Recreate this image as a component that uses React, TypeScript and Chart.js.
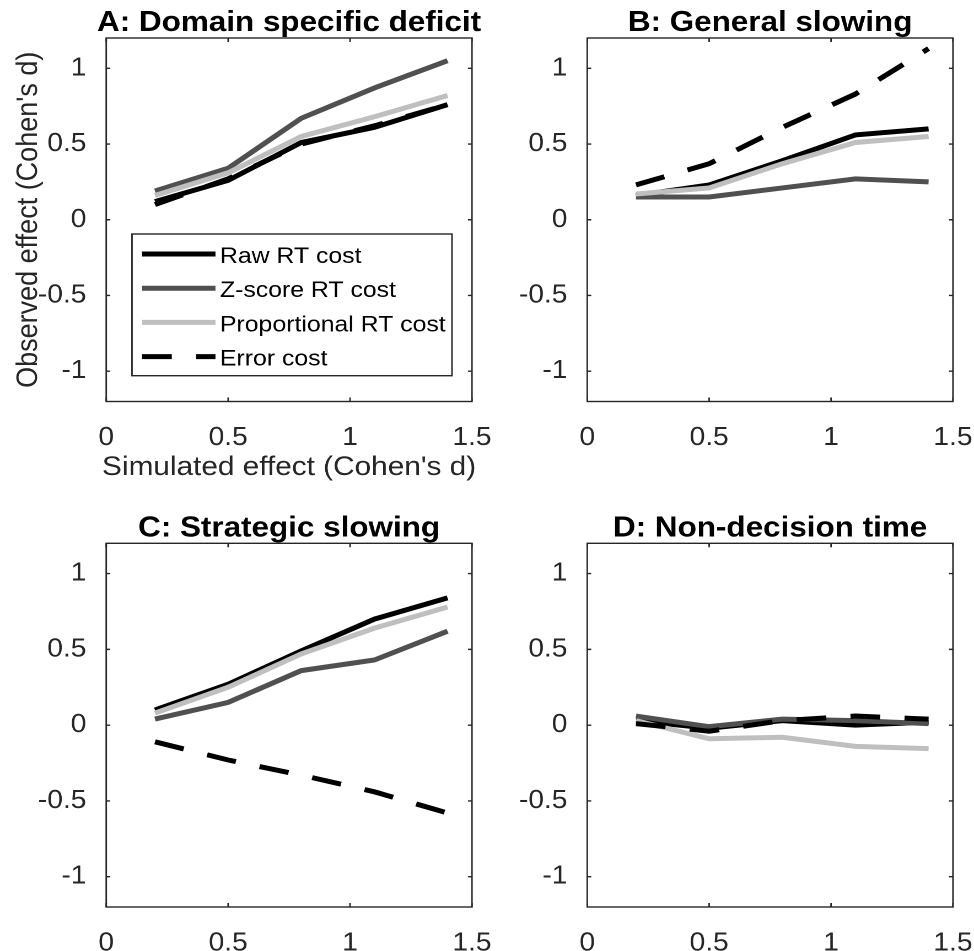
import React, { useEffect, useRef } from "react";
import { Chart, registerables } from "chart.js";

Chart.register(...registerables);

const FONT = "'Liberation Sans', Arial, Helvetica, sans-serif";
const AXIS_COLOR = "#262626";

// ---------- data ----------
const xValues = [0.2, 0.5, 0.8, 1.1, 1.4];
const xTicks = [0, 0.5, 1, 1.5];
const yTicks = [-1, -0.5, 0, 0.5, 1];
const seriesNames = ["Raw RT cost", "Z-score RT cost", "Proportional RT cost", "Error cost"];
const panelTitles = [
  "A: Domain specific deficit",
  "B: General slowing",
  "C: Strategic slowing",
  "D: Non-decision time",
];
const xAxisLabel = "Simulated effect (Cohen's d)";
const yAxisLabel = "Observed effect (Cohen's d)";

const rawA = [0.12, 0.26, 0.51, 0.61, 0.76];
const zA = [0.19, 0.34, 0.67, 0.87, 1.05];
const propA = [0.16, 0.31, 0.55, 0.68, 0.82];
const errA = [0.1, 0.27, 0.5, 0.62, 0.76];

const rawB = [0.16, 0.23, 0.39, 0.56, 0.6];
const zB = [0.15, 0.15, 0.21, 0.27, 0.25];
const propB = [0.17, 0.21, 0.37, 0.51, 0.55];
const errB = [0.23, 0.37, 0.61, 0.83, 1.13];

const rawC = [0.1, 0.27, 0.49, 0.7, 0.84];
const zC = [0.04, 0.15, 0.36, 0.43, 0.62];
const propC = [0.08, 0.25, 0.47, 0.64, 0.78];
const errC = [-0.11, -0.23, -0.33, -0.44, -0.58];

const rawD = [0.03, -0.02, 0.03, 0.0, 0.02];
const zD = [0.06, -0.01, 0.04, 0.03, 0.01];
const propD = [0.03, -0.09, -0.08, -0.14, -0.155];
const errD = [0.01, -0.04, 0.03, 0.06, 0.04];

const panelSeries = [
  [rawA, zA, propA, errA],
  [rawB, zB, propB, errB],
  [rawC, zC, propC, errC],
  [rawD, zD, propD, errD],
];

// ---------- styles / layout ----------
// The reference figure is stretched horizontally; render narrower and stretch with CSS.
const S = 1.1;
const seriesStyles = [
  { color: "#000000", dash: [] as number[] },
  { color: "#505050", dash: [] as number[] },
  { color: "#bfbfbf", dash: [] as number[] },
  { color: "#000000", dash: [27, 22] },
];
const LINE_W = 5;

type Box = {
  left: number; // css px
  top: number;
  width: number; // css px
  height: number;
  plot: { l: number; t: number; r: number; b: number }; // css page px
};

const panelBoxes: Box[] = [
  { left: 0, top: 0, width: 495, height: 487, plot: { l: 106, t: 38, r: 472, b: 401.5 } },
  { left: 479, top: 0, width: 495, height: 487, plot: { l: 587, t: 38, r: 953, b: 401.5 } },
  { left: 0, top: 487, width: 495, height: 464, plot: { l: 106, t: 543.3, r: 472, b: 907 } },
  { left: 479, top: 487, width: 495, height: 464, plot: { l: 587, t: 543.3, r: 953, b: 907 } },
];

const X_AXIS_H = 44;

function Panel({ index }: { index: number }) {
  const ref = useRef<HTMLCanvasElement>(null);
  const box = panelBoxes[index];
  const LW = box.width / S;

  useEffect(() => {
    const canvas = ref.current;
    if (!canvas) return;
    const pl = (box.plot.l - box.left) / S;
    const pr = (box.plot.r - box.left) / S;
    const pt = box.plot.t - box.top;
    const pb = box.plot.b - box.top;
    const cx = (v: number) => (v - box.left) / S; // css page x -> logical x

    const decor = {
      id: "decor" + index,
      afterDatasetsDraw(chart: any) {
        const { ctx, chartArea: a, scales } = chart;
        ctx.save();
        // box
        ctx.strokeStyle = AXIS_COLOR;
        ctx.lineWidth = 1.4;
        ctx.setLineDash([]);
        ctx.strokeRect(a.left, a.top, a.right - a.left, a.bottom - a.top);
        // inward ticks on all sides
        const TL = 4;
        ctx.beginPath();
        for (const v of xTicks) {
          const px = scales.x.getPixelForValue(v);
          ctx.moveTo(px, a.bottom);
          ctx.lineTo(px, a.bottom - TL);
          ctx.moveTo(px, a.top);
          ctx.lineTo(px, a.top + TL);
        }
        for (const v of yTicks) {
          const py = scales.y.getPixelForValue(v);
          ctx.moveTo(a.left, py);
          ctx.lineTo(a.left + TL / S, py);
          ctx.moveTo(a.right, py);
          ctx.lineTo(a.right - TL / S, py);
        }
        ctx.stroke();

        // title
        ctx.fillStyle = "#000";
        ctx.font = `bold 28.5px ${FONT}`;
        ctx.textAlign = "center";
        ctx.textBaseline = "alphabetic";
        ctx.fillText(panelTitles[index], (a.left + a.right) / 2, a.top - 7);

        if (index === 0) {
          // axis labels
          ctx.fillStyle = AXIS_COLOR;
          ctx.font = `27px ${FONT}`;
          ctx.textAlign = "center";
          ctx.textBaseline = "alphabetic";
          ctx.fillText(xAxisLabel, (a.left + a.right) / 2, 475);
          ctx.save();
          ctx.translate(cx(37), (a.top + a.bottom) / 2);
          ctx.rotate(-Math.PI / 2);
          ctx.fillText(yAxisLabel, 0, 0);
          ctx.restore();

          // legend
          const lx = cx(131.7), ly = 234, lw = cx(451) - cx(131.7), lh = 141.7;
          ctx.fillStyle = "#fff";
          ctx.fillRect(lx, ly, lw, lh);
          ctx.strokeStyle = AXIS_COLOR;
          ctx.lineWidth = 1.4;
          ctx.strokeRect(lx, ly, lw, lh);
          ctx.font = `22.5px ${FONT}`;
          ctx.textAlign = "left";
          ctx.textBaseline = "alphabetic";
          seriesNames.forEach((name, k) => {
            const ry = 254 + k * 34.2;
            ctx.beginPath();
            ctx.strokeStyle = seriesStyles[k].color;
            ctx.lineWidth = LINE_W;
            ctx.setLineDash(seriesStyles[k].dash);
            ctx.lineCap = "butt";
            ctx.moveTo(cx(141.7), ry);
            ctx.lineTo(cx(215), ry);
            ctx.stroke();
            ctx.setLineDash([]);
            ctx.fillStyle = "#000";
            ctx.fillText(name, cx(219.5), ry + 9);
          });
        }
        ctx.restore();
      },
    };

    const chart = new Chart(canvas, {
      type: "line",
      data: {
        datasets: seriesNames.map((name, k) => ({
          label: name,
          data: xValues.map((x, i) => ({ x, y: panelSeries[index][k][i] })),
          borderColor: seriesStyles[k].color,
          backgroundColor: seriesStyles[k].color,
          borderDash: seriesStyles[k].dash,
          borderWidth: LINE_W,
          borderCapStyle: "butt",
          pointRadius: 0,
          pointHoverRadius: 0,
          fill: false,
          tension: 0,
          order: 3 - k,
        })),
      },
      options: {
        animation: false,
        responsive: false,
        devicePixelRatio: 2,
        events: [],
        layout: {
          padding: {
            left: 0,
            top: pt,
            right: LW - pr,
            bottom: box.height - pb - X_AXIS_H,
          },
        },
        plugins: {
          legend: { display: false },
          title: { display: false },
          tooltip: { enabled: false },
        },
        scales: {
          x: {
            type: "linear",
            min: 0,
            max: 1.5,
            afterBuildTicks: (s: any) => {
              s.ticks = xTicks.map((v) => ({ value: v }));
            },
            afterFit: (s: any) => {
              s.height = X_AXIS_H;
              s.paddingLeft = 0;
              s.paddingRight = 0;
            },
            grid: { display: false },
            border: { display: false },
            ticks: {
              font: { family: FONT, size: 25.5 },
              color: AXIS_COLOR,
              padding: 13,
              maxRotation: 0,
              autoSkip: false,
              callback: (v: any) => String(v),
            },
          },
          y: {
            type: "linear",
            min: -1.2,
            max: 1.2,
            afterBuildTicks: (s: any) => {
              s.ticks = yTicks.map((v) => ({ value: v }));
            },
            afterFit: (s: any) => {
              s.width = pl;
              s.paddingTop = 0;
              s.paddingBottom = 0;
            },
            grid: { display: false },
            border: { display: false },
            ticks: {
              font: { family: FONT, size: 25.5 },
              color: AXIS_COLOR,
              padding: 10,
              autoSkip: false,
              callback: (v: any) => String(v),
            },
          },
        },
      },
      plugins: [decor],
    } as any);

    return () => chart.destroy();
  }, [index]);

  return (
    <canvas
      ref={ref}
      width={LW}
      height={box.height}
      style={{
        position: "absolute",
        left: box.left,
        top: box.top,
        width: box.width,
        height: box.height,
      }}
    />
  );
}

export default function App() {
  return (
    <div
      style={{
        position: "absolute",
        left: 0,
        top: 0,
        width: 974,
        height: 951,
        background: "#ffffff",
        overflow: "hidden",
      }}
    >
      {[0, 1, 2, 3].map((i) => (
        <Panel key={i} index={i} />
      ))}
    </div>
  );
}
